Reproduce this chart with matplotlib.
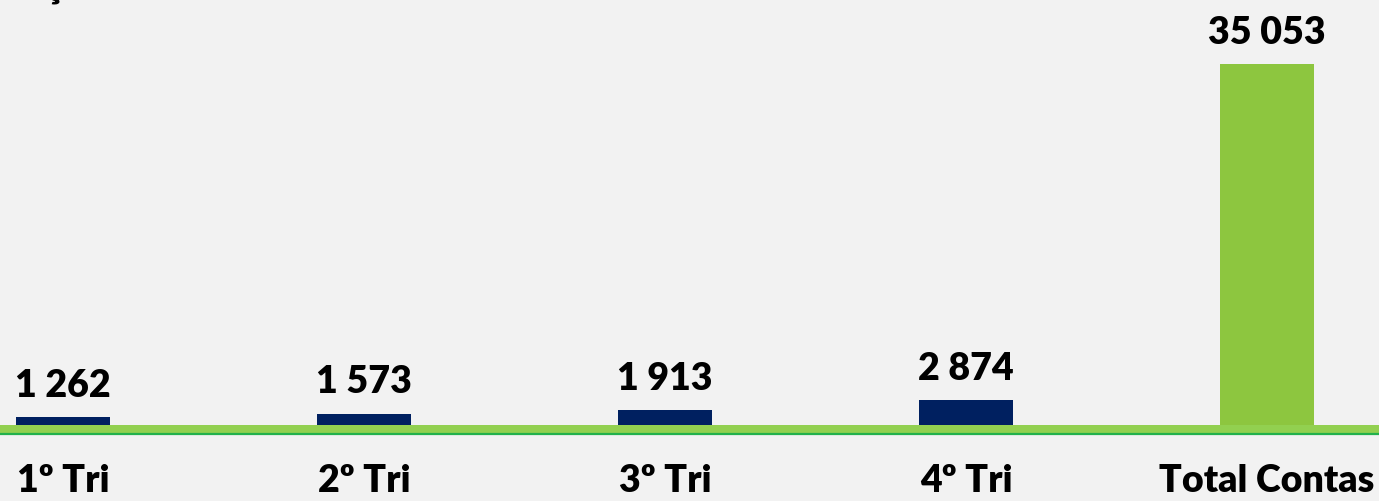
import matplotlib.pyplot as plt

CATEGORIES = ['1º Tri', '2º Tri', '3º Tri', '4º Tri', 'Total Contas']
VALUES = [1262, 1573, 1913, 2874, 35053]
LABELS = ['1 262', '1 573', '1 913', '2 874', '35 053']
BAR_COLORS = ['#002060', '#002060', '#002060', '#002060', '#8DC63F']

BG = '#F2F2F2'
FONT = 'Lato'
WEIGHT = 'heavy'

fig = plt.figure(figsize=(13.79, 5.02), dpi=100, facecolor=BG)
ax = fig.add_axes([0, 71 / 502, 1, 431 / 502])
ax.set_facecolor(BG)

x = list(range(len(CATEGORIES)))
ax.bar(x, VALUES, width=0.312, color=BAR_COLORS, zorder=2)

ax.set_xlim(-63 / 301, 4 + 112 / 301)
ax.set_ylim(0, 431 / 0.010447)

# green base line
ax.axhline(0, color='#92D050', linewidth=7.2, zorder=3, clip_on=False)
ax.axhline(-400, color='#22B14C', linewidth=1.6, zorder=3, clip_on=False)

for xi, v, lab in zip(x, VALUES, LABELS):
    ax.annotate(lab, (xi, v), xytext=(0, 11), textcoords='offset points',
                ha='center', va='bottom', fontsize=27, fontweight=WEIGHT,
                family=FONT, color='black')

ax.set_xticks(x)
ax.set_xticklabels(CATEGORIES, fontsize=27, fontweight=WEIGHT, family=FONT)
ax.tick_params(axis='x', length=0, pad=24)
ax.set_yticks([])
for s in ax.spines.values():
    s.set_visible(False)

# fragment of a title cut off at the top edge
fig.text(45 / 1379, 1 + 2 / 502, 'ç', fontsize=27, fontweight=WEIGHT,
         family=FONT, va='baseline', ha='left')

fig.savefig('out.png', dpi=100, facecolor=BG)
